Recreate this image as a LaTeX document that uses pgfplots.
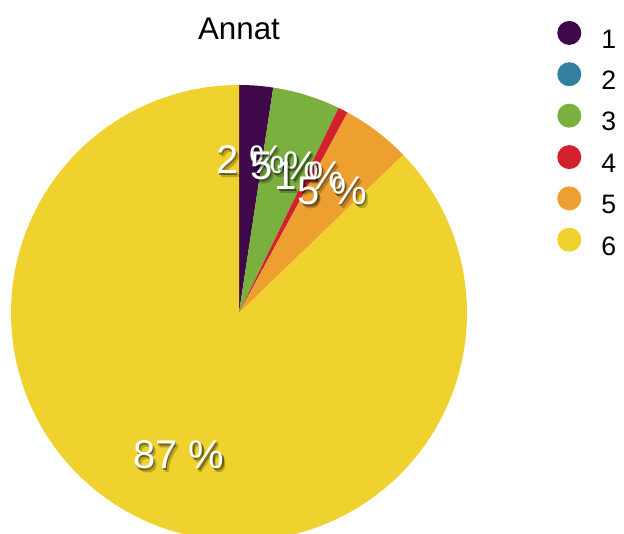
\documentclass[border=0pt]{standalone}
\usepackage{pgfplots}
\pgfplotsset{compat=1.18}
\usepackage{fontspec}
\setmainfont{Liberation Sans}
\definecolor{c1}{RGB}{63,8,75}
\definecolor{c2}{RGB}{50,128,160}
\definecolor{c3}{RGB}{122,176,62}
\definecolor{c4}{RGB}{210,32,45}
\definecolor{c5}{RGB}{237,160,48}
\definecolor{c6}{RGB}{240,210,46}
\newcommand{\lf}{\fontsize{20}{22}\selectfont}
% slice values (percent): 2.4, 0, 4.8, 0.7, 4.9, 87.2
\newcommand{\plabel}[2]{%
  \node[font=\fontsize{30}{35}\selectfont,text=black,opacity=0.22] at (axis cs:{239+154*sin(3.6*#1)+3},{221+154*cos(3.6*#1)-4}) {#2};
  \node[font=\fontsize{30}{35}\selectfont,text=black,opacity=0.45] at (axis cs:{239+154*sin(3.6*#1)+1.5},{221+154*cos(3.6*#1)-2.2}) {#2};
  \node[font=\fontsize{30}{35}\selectfont,text=white] at (axis cs:{239+154*sin(3.6*#1)},{221+154*cos(3.6*#1)}) {#2};}
\begin{document}
\begin{tikzpicture}
\useasboundingbox (0,0) rectangle (468pt,400.5pt);
\begin{axis}[
  at={(0,0)}, anchor=south west,
  x=0.75pt, y=0.75pt,
  xmin=0, xmax=624, ymin=0, ymax=534,
  hide axis, clip=true,
  legend style={at={(axis cs:553,516)}, anchor=north west, draw=none, fill=none,
    row sep=7.1pt,
    /tikz/every even column/.append style={column sep=0pt}},
  legend cell align=left,
  legend image code/.code={\fill[#1] (0.35em,0) circle (9pt);},
]
\addplot[fill=c1, draw=none, domain=0:2.4, samples=20, variable=\t]
  ({239+228*sin(3.6*\t)}, {221+228*cos(3.6*\t)}) -- (axis cs:239,221) -- cycle;
\addlegendentry{\lf\hspace{13pt}1}
\addlegendimage{fill=c2, draw=none}
\addlegendentry{\lf\hspace{13pt}2}
\addplot[fill=c3, draw=none, domain=2.4:7.2, samples=20, variable=\t]
  ({239+228*sin(3.6*\t)}, {221+228*cos(3.6*\t)}) -- (axis cs:239,221) -- cycle;
\addlegendentry{\lf\hspace{13pt}3}
\addplot[fill=c4, draw=none, domain=7.2:7.9, samples=5, variable=\t]
  ({239+228*sin(3.6*\t)}, {221+228*cos(3.6*\t)}) -- (axis cs:239,221) -- cycle;
\addlegendentry{\lf\hspace{13pt}4}
\addplot[fill=c5, draw=none, domain=7.9:12.8, samples=20, variable=\t]
  ({239+228*sin(3.6*\t)}, {221+228*cos(3.6*\t)}) -- (axis cs:239,221) -- cycle;
\addlegendentry{\lf\hspace{13pt}5}
\addplot[fill=c6, draw=none, domain=12.8:100, samples=200, variable=\t]
  ({239+228*sin(3.6*\t)}, {221+228*cos(3.6*\t)}) -- (axis cs:239,221) -- cycle;
\addlegendentry{\lf\hspace{13pt}6}
\plabel{1.2}{2 \%}
\plabel{4.8}{5 \%}
\plabel{7.55}{1 \%}
\plabel{10.35}{5 \%}
\plabel{56.4}{87 \%}
\node[font=\fontsize{23.5}{27}\selectfont] at (axis cs:239,505) {Annat};
\end{axis}
\end{tikzpicture}
\end{document}
